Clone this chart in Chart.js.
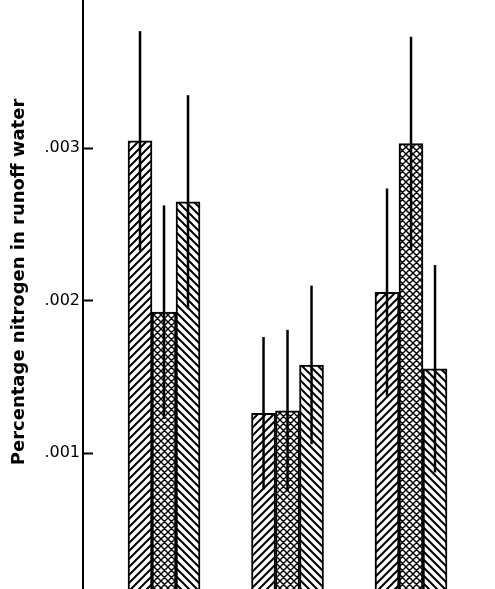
<!DOCTYPE html>
<html>
<head>
<meta charset="utf-8">
<script src="https://cdn.jsdelivr.net/npm/chart.js@4.4.0/dist/chart.umd.min.js"></script>
<style>
html,body{margin:0;padding:0;background:#fff;}
</style>
</head>
<body>
<canvas id="barChart" width="495" height="589"></canvas>
<script>
// three treatments, three groups (no x labels in the figure)
const categories=['Group 1','Group 2','Group 3'];
const series1=[0.003046,0.00126,0.002054];
const series2=[0.001923,0.001277,0.003029];
const series3=[0.002646,0.001577,0.001552];
const err1=[0.00072,0.0005,0.00068];
const err2=[0.0007,0.00053,0.0007];
const err3=[0.0007,0.00052,0.00068];
const yTicks=[0.001,0.002,0.003];

const ctx=document.getElementById('barChart').getContext('2d');

function hatch(kind){
    const s=kind==='cross'?7:8;
    const c=document.createElement('canvas');
    c.width=s;c.height=s;
    const g=c.getContext('2d');
    g.fillStyle='#fff';g.fillRect(0,0,s,s);
    g.strokeStyle='#000';
    g.lineWidth=kind==='cross'?1.4:2;
    g.beginPath();
    if(kind!=='back'){
        g.moveTo(-1,s+1);g.lineTo(s+1,-1);
        g.moveTo(-1,1);g.lineTo(1,-1);
        g.moveTo(s-1,s+1);g.lineTo(s+1,s-1);
    }
    if(kind!=='fwd'){
        g.moveTo(-1,-1);g.lineTo(s+1,s+1);
        g.moveTo(s-1,-1);g.lineTo(s+1,1);
        g.moveTo(-1,s-1);g.lineTo(1,s+1);
    }
    g.stroke();
    return ctx.createPattern(c,'repeat');
}

const toPoints=arr=>arr.map((v,i)=>({x:i+1,y:v}));
const errs=[err1,err2,err3];

const errorBars={
    id:'errorBars',
    afterDatasetsDraw(chart){
        const c=chart.ctx,y=chart.scales.y,a=chart.chartArea;
        c.save();
        c.beginPath();c.rect(a.left,a.top,a.width,a.height);c.clip();
        c.strokeStyle='#000';c.lineWidth=2.5;
        chart.data.datasets.forEach((ds,i)=>{
            chart.getDatasetMeta(i).data.forEach((bar,j)=>{
                const v=ds.data[j].y,e=errs[i][j];
                c.beginPath();
                c.moveTo(bar.x,y.getPixelForValue(v+e));
                c.lineTo(bar.x,y.getPixelForValue(v-e));
                c.stroke();
            });
        });
        c.restore();
    }
};

// tick marks point into the plot
const innerTicks={
    id:'innerTicks',
    afterDraw(chart){
        const c=chart.ctx,y=chart.scales.y,l=chart.chartArea.left;
        c.save();
        c.strokeStyle='#000';c.lineWidth=2;
        yTicks.forEach(v=>{
            const p=Math.round(y.getPixelForValue(v))+0.5;
            c.beginPath();c.moveTo(l,p);c.lineTo(l+10,p);c.stroke();
        });
        c.restore();
    }
};

const barchart=new Chart(ctx,{
    type:'bar',
    data:{
        datasets:[{
            label:categories[0],
            data:toPoints(series1),
            backgroundColor:hatch('fwd')
        },{
            label:categories[1],
            data:toPoints(series2),
            backgroundColor:hatch('cross')
        },{
            label:categories[2],
            data:toPoints(series3),
            backgroundColor:hatch('back')
        }]
    },
    options:{
        responsive:false,
        animation:false,
        devicePixelRatio:1,
        layout:{padding:0},
        datasets:{
            bar:{
                barThickness:24,
                borderColor:'#000',
                borderWidth:2
            }
        },
        plugins:{
            legend:{display:false},
            tooltip:{enabled:false}
        },
        scales:{
            x:{
                type:'linear',
                offset:false,
                grace:0,
                min:0.344,
                max:3.68,
                display:false,
                afterBuildTicks:s=>{s.ticks=categories.map((c,i)=>({value:i+1}));}
            },
            y:{
                min:0.000108,
                max:0.00397,
                border:{color:'#000',width:2},
                grid:{display:false,drawTicks:false},
                afterBuildTicks:s=>{s.ticks=yTicks.map(v=>({value:v}));},
                afterFit:s=>{s.width=83;s.paddingTop=0;s.paddingBottom=0;},
                ticks:{
                    padding:3,
                    color:'#000',
                    font:{family:'DejaVu Sans',size:16},
                    callback:v=>v.toFixed(3).replace(/^0/,'')
                },
                title:{
                    display:true,
                    text:'    Percentage nitrogen in runoff water',
                    color:'#000',
                    font:{family:'DejaVu Sans',size:18,weight:'bold'},
                    padding:{top:9,bottom:0}
                }
            }
        }
    },
    plugins:[errorBars,innerTicks]
});
</script>
</body>
</html>
